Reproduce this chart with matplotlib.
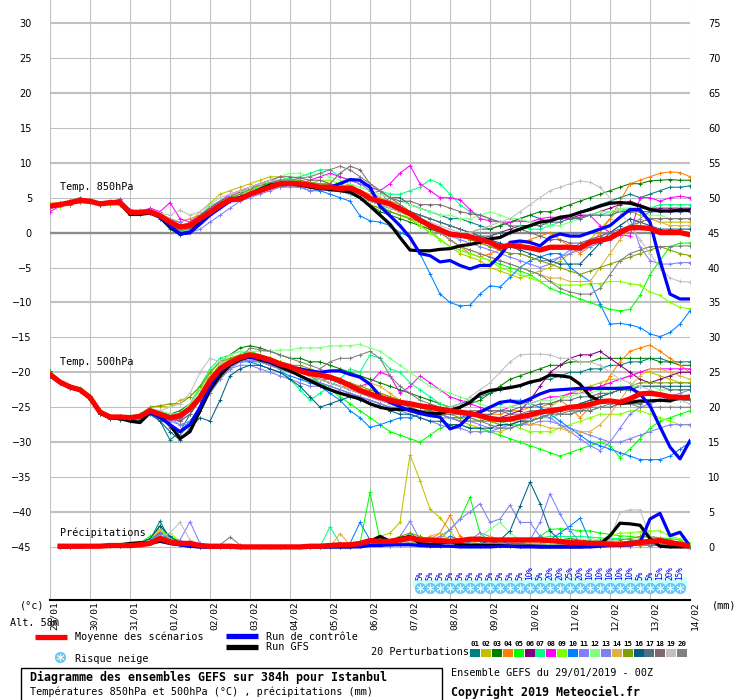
import matplotlib
matplotlib.use("Agg")
import matplotlib.pyplot as plt
from matplotlib.patches import Rectangle

# ------------------------------------------------------------
# axes / labels
# ------------------------------------------------------------
hours = list(range(0, 385, 6))          # 65 steps, 6-hourly, 384h
precip_hours = hours[1:]                 # precipitation starts at +6h
day_labels = ["29/01", "30/01", "31/01", "01/02", "02/02", "03/02", "04/02", "05/02",
              "06/02", "07/02", "08/02", "09/02", "10/02", "11/02", "12/02", "13/02", "14/02"]
temp_ticks = list(range(-45, 31, 5))
precip_ticks = list(range(0, 76, 5))

member_colors = ["#008080", "#c0c000", "#008000", "#ff8000", "#00ff00", "#800080", "#00ff80",
                 "#ff00ff", "#80ff00", "#0080ff", "#8080ff", "#80ff80", "#8080f0", "#e0b040",
                 "#80a000", "#006080", "#507080", "#806870", "#c0c0c0", "#808080"]

# snow risk (%) from 07/02 06Z to 13/02 18Z
snow_pct = [5, 5, 5, 5, 5, 5, 5, 5, 5, 5, 5, 10, 5, 20, 20, 25, 20, 10, 10, 10, 10, 10, 5, 5, 15, 20, 15]

# ------------------------------------------------------------
# 850 hPa temperature
# ------------------------------------------------------------
t850_mean = [3.8, 4.0, 4.3, 4.6, 4.5, 4.1, 4.3, 4.3, 2.9, 2.9, 3.0, 2.4, 1.5, 0.8, 1.0, 2.0, 2.9, 3.9, 4.7, 4.8,
             5.5, 6.0, 6.5, 7.0, 7.0, 7.0, 6.8, 6.5, 6.5, 6.3, 6.4, 5.8, 4.9, 4.5, 4.1, 3.4, 2.7, 1.8, 1.0, 0.4,
             -0.2, -0.4, -0.6, -1.0, -1.4, -2.1, -1.8, -2.0, -2.2, -2.5, -2.1, -2.1, -2.1, -2.2, -1.4, -1.1,
             -0.8, 0.0, 0.7, 0.7, 0.6, 0.0, 0.0, 0.0, -0.3]
t850_control = [3.8, 4.0, 4.3, 4.5, 4.5, 4.1, 4.3, 4.3, 2.8, 2.8, 3.0, 2.3, 1.0,
                -0.2, 0.0, 1.2, 2.5, 3.5, 4.5, 5.0, 5.5, 6.0, 6.5, 7.0, 7.0, 7.0, 6.8, 6.5, 6.5, 7.0, 7.6,
                7.5, 6.5, 3.8, 2.4, 1.0, -0.7, -3.0, -3.3, -4.2, -4.0, -4.7, -5.2, -4.7, -4.7, -3.3, -1.4,
                -1.2, -1.4, -1.9, -0.7, -0.2, -0.5, -0.5, 0.0, 0.5, 1.0, 2.2, 3.3, 3.3, 1.5, -4.0, -8.8, -9.5, -9.5]
t850_gfs = [3.8, 4.0, 4.2, 4.5, 4.4, 4.1, 4.2, 4.2, 2.6, 2.6, 2.8, 2.2, 0.8,
            -0.2, 0.0, 1.5, 2.8, 3.8, 4.6, 5.0, 5.5, 6.2, 6.8, 7.0, 7.0, 6.8, 6.5, 6.3, 6.2, 6.0, 5.8,
            5.0, 3.8, 2.5, 1.2, -0.7, -2.5, -2.6, -2.6, -2.4, -2.3, -1.9, -1.7, -1.4, -0.9, -0.7, 0.0,
            0.5, 1.0, 1.5, 1.7, 2.2, 2.4, 2.9, 3.3, 3.8, 4.2, 4.3, 4.2, 3.8, 3.3, 3.1, 3.1, 3.2, 3.2]

t850_p01 = [3.5, 4.2, 4.5, 5.0, 4.6, 4.0, 4.4, 4.8, 2.5, 2.7, 3.2, 2.0, 0.5,
            -0.3, 0.2, 1.5, 3.0, 4.0, 4.5, 5.0, 5.5, 6.5, 7.0, 7.5, 7.2, 7.0, 6.5, 6.0, 6.8, 7.0, 6.0,
            5.5, 4.5, 4.0, 5.0, 5.0, 4.0, 3.5, 3.0, 2.5, 2.0, 2.0, 1.5, 1.0, 0.5, 1.0, 1.5, 2.0, 2.5, 2.0, 1.5,
            2.0, 2.5, 3.0, 3.5, 4.0, 4.5, 5.0, 5.5, 5.0, 5.5, 6.0, 6.5, 6.5, 6.7]
t850_p02 = [4.0, 4.3, 4.0, 4.4, 4.2, 4.0, 4.1, 4.0, 3.0, 3.2, 3.3, 2.8, 2.0,
            1.0, 1.5, 3.0, 4.2, 5.5, 6.0, 6.5, 7.0, 7.5, 8.0, 8.0, 7.5, 7.5, 7.0, 7.5, 7.0, 6.5, 6.0,
            5.0, 4.0, 3.5, 3.0, 2.5, 2.0, 1.0, 0.5, -1.0, -2.0, -3.0, -3.5, -4.0, -5.0, -5.5, -6.0, -6.5, -6.0,
            -5.5, -5.0, -4.0, -3.0, -2.0, -1.0, 0.5, 2.0, 3.5, 3.0, 2.5, 2.0, 1.5, 1.5, 1.5, 1.5]
t850_p03 = [3.8, 4.0, 4.5, 4.6, 4.3, 4.2, 4.5, 4.2, 3.0, 2.8, 2.8, 2.2, 1.2,
            0.5, 0.8, 2.2, 3.5, 4.5, 5.0, 5.5, 6.2, 6.8, 7.0, 7.2, 7.0, 7.0, 6.8, 6.5, 7.0, 6.5, 6.0,
            5.0, 4.0, 3.0, 2.5, 2.0, 1.5, 1.0, 0.5, 0.0, -0.5, -0.5, 0.0, 0.5, 0.5, 1.0, 1.5, 2.0, 2.5, 3.0, 3.0,
            3.5, 4.0, 4.5, 5.0, 5.5, 6.0, 6.5, 7.0, 7.0, 7.4, 7.5, 7.6, 7.5, 7.5]
t850_p04 = [4.2, 4.3, 4.4, 4.6, 4.7, 4.3, 4.2, 4.0, 3.2, 3.0, 3.0, 2.6, 2.0,
            1.5, 2.0, 2.5, 3.5, 4.0, 4.5, 5.0, 5.5, 6.0, 6.5, 7.0, 6.8, 7.0, 7.0, 6.5, 7.0, 6.5, 7.0,
            6.0, 5.5, 6.0, 5.0, 4.0, 3.0, 2.0, 1.0, 0.0, -1.0, -2.0, -3.0, -3.5, -3.0, -2.5, -2.0, -1.5, -1.0,
            -0.5, 0.0, -1.0, -2.0, -3.0, -2.0, 0.0, 2.0, 4.5, 7.0, 7.5, 8.0, 8.5, 8.7, 8.6, 8.0]
t850_p05 = [3.5, 3.9, 4.2, 4.4, 4.5, 4.0, 4.0, 4.3, 2.8, 2.7, 2.8, 2.2, 1.0,
            0.2, 0.5, 1.8, 3.0, 4.0, 4.8, 5.5, 6.0, 6.5, 7.0, 7.2, 7.5, 7.2, 7.0, 7.0, 6.8, 6.5, 6.0,
            5.0, 4.5, 4.0, 3.0, 2.5, 2.0, 1.0, 0.0, -1.0, -2.0, -2.5, -3.0, -3.5, -4.0, -4.5, -5.0, -5.5, -6.0,
            -7.0, -8.0, -8.5, -9.0, -9.5, -10.0, -10.5, -11.0, -11.2, -11.0, -9.0, -6.0, -4.0, -2.0, -1.5, -1.5]
t850_p06 = [3.9, 4.1, 4.3, 4.5, 4.4, 4.2, 4.3, 4.1, 2.7, 2.8, 3.1, 2.5, 1.4,
            0.6, 1.0, 2.0, 3.0, 3.8, 4.5, 5.0, 5.5, 6.0, 6.5, 7.0, 7.0, 6.8, 6.5, 6.5, 6.0, 6.0, 6.5,
            6.0, 5.0, 4.5, 4.0, 3.0, 2.5, 1.5, 1.0, 0.5, 0.0, -0.5, -0.5, -1.0, -0.5, 0.0, 0.5, 1.0, 1.0,
            1.5, 1.5, 2.0, 2.0, 2.5, 2.5, 3.0, 3.5, 4.0, 4.5, 4.0, 3.5, 3.5, 3.5, 3.5, 3.5]
t850_p07 = [3.6, 4.0, 4.2, 4.5, 4.6, 4.2, 4.2, 4.4, 3.0, 3.1, 3.2, 2.3, 1.3,
            0.5, 1.2, 2.5, 3.8, 4.5, 5.0, 5.5, 6.0, 6.5, 7.0, 7.5, 7.8, 8.0, 8.5, 9.0, 9.0, 8.0, 7.5,
            7.0, 6.5, 6.0, 5.5, 5.5, 6.0, 6.5, 7.6, 7.0, 5.5, 4.0, 3.0, 2.5, 2.0, 1.5, 1.0, 1.0, 0.5,
            0.5, 1.0, 1.5, 2.0, 2.0, 2.5, 2.5, 3.0, 3.0, 3.5, 3.5, 3.5, 4.0, 4.0, 4.0, 4.0]
t850_p08 = [3.0, 3.8, 4.0, 4.4, 4.5, 4.0, 4.4, 4.6, 3.3, 3.0, 3.5, 3.0, 4.3,
            2.0, 1.5, 2.5, 3.5, 4.5, 5.5, 6.0, 6.5, 7.0, 7.5, 7.5, 7.0, 7.0, 7.5, 8.0, 8.5, 8.0, 7.5,
            7.0, 6.5, 6.0, 7.0, 8.5, 9.6, 7.0, 6.0, 5.0, 5.0, 4.7, 3.3, 2.0, 1.7, 1.5, 1.5, 1.7, 1.5,
            2.0, 2.2, 2.2, 2.0, 2.2, 2.5, 1.0, 0.0, -0.3, -0.5, 5.0, 5.0, 4.5, 5.0, 5.2, 5.0]
t850_p09 = [3.6, 3.7, 4.1, 4.3, 4.2, 4.0, 3.9, 4.0, 2.6, 2.7, 2.8, 2.2, 1.2,
            0.4, 0.8, 1.8, 3.0, 4.0, 4.6, 5.0, 5.5, 6.0, 6.5, 7.0, 7.0, 7.0, 7.0, 7.5, 7.5, 7.0, 6.5,
            6.0, 5.0, 4.0, 3.5, 3.0, 2.0, 1.0, 0.0, -1.0, -2.0, -2.5, -3.0, -3.5, -4.0, -5.0, -5.5, -6.0, -6.5,
            -7.0, -7.0, -7.5, -7.5, -7.5, -7.3, -7.3, -7.0, -7.0, -7.3, -7.5, -8.5, -9.0, -10.0, -10.7, -10.9]
t850_p10 = [3.7, 4.0, 4.2, 4.5, 4.4, 4.0, 4.2, 4.3, 2.8, 2.6, 2.8, 2.0, 1.0,
            0.0, 0.3, 1.5, 2.8, 3.8, 4.5, 5.0, 5.5, 6.0, 6.5, 6.5, 6.8, 6.5, 6.0, 6.0, 5.5, 5.0, 4.5,
            2.4, 1.7, 1.5, 1.0, 0.0, -0.6, -3.0, -5.9, -8.8, -10.0, -10.5, -10.4, -8.8, -7.6, -7.8, -6.4, -5.0,
            -4.0, -3.5, -3.0, -3.0, -5.0, -6.0, -7.0, -10.2, -13.1, -13.0, -13.2, -13.6, -14.5, -14.9, -14.3,
            -13.1, -11.2]
t850_p11 = [3.9, 4.1, 4.4, 4.5, 4.6, 4.3, 4.2, 4.2, 2.9, 3.0, 3.1, 2.6, 1.8,
            1.5, 0.0, 0.5, 1.5, 2.5, 3.5, 4.5, 5.0, 5.5, 6.0, 6.5, 6.5, 6.5, 6.0, 6.2, 6.0, 6.0, 5.5,
            5.0, 5.5, 6.0, 4.0, 3.0, 2.5, 2.0, 1.0, 0.0, -0.5, -1.0, -1.5, -2.0, -2.5, -3.0, -3.5, -4.0, -4.5,
            -5.0, -4.5, -3.5, -2.5, -1.5, -1.0, -0.5, 0.0, 1.0, 2.0, -2.0, -4.0, -4.5, -4.5, -4.3, -4.3]
t850_p12 = [4.1, 4.2, 4.3, 4.7, 4.6, 4.1, 4.5, 4.4, 3.1, 3.0, 3.2, 2.5, 1.6,
            1.0, 1.2, 2.2, 3.2, 4.2, 5.0, 5.5, 6.0, 6.8, 7.5, 8.0, 8.5, 8.5, 8.0, 8.5, 8.0, 7.5, 7.0,
            6.5, 6.0, 5.5, 5.0, 4.5, 4.0, 3.5, 3.0, 2.5, 2.5, 2.0, 2.0, 2.5, 3.0, 2.5, 2.0, 2.0, 1.5,
            1.5, 1.0, 1.0, 1.5, 2.0, 2.5, 3.0, 3.0, 3.5, 3.5, 3.0, 2.5, 2.5, 2.0, 2.0, 2.0]
t850_p13 = [3.7, 4.0, 4.2, 4.4, 4.3, 4.0, 4.2, 4.1, 2.8, 2.9, 3.0, 2.4, 1.5,
            0.8, 0.5, 1.5, 2.5, 3.5, 4.5, 5.0, 5.8, 6.2, 6.8, 7.0, 7.2, 7.0, 6.8, 6.5, 6.5, 7.0, 7.5,
            7.0, 6.0, 5.0, 4.5, 3.5, 3.0, 2.0, 1.0, 0.5, 0.0, -0.5, -1.0, -1.5, -2.0, -2.5, -3.0, -3.0, -3.5,
            -4.0, -4.0, -3.5, -3.0, -2.5, -2.0, -1.5, -1.0, 0.0, 1.0, 2.0, 3.0, 3.0, 3.0, 3.0, 3.0]
t850_p14 = [3.9, 4.1, 4.4, 4.6, 4.4, 4.1, 4.3, 4.3, 2.9, 2.8, 2.9, 2.3, 1.5,
            0.7, 1.0, 2.0, 3.0, 4.0, 4.8, 5.2, 5.8, 6.3, 6.8, 7.0, 7.0, 7.0, 6.8, 6.5, 6.5, 6.0, 6.5,
            6.0, 5.5, 5.0, 4.5, 4.0, 3.0, 2.0, 1.0, 0.0, -1.0, -2.0, -2.5, -3.0, -3.5, -4.0, -4.5, -5.0, -5.5,
            -6.0, -6.5, -6.5, -7.0, -7.0, -7.0, -5.0, -3.0, -1.0, 0.5, 1.5, 2.0, 1.5, 1.0, 1.0, 1.0]
t850_p15 = [3.8, 3.9, 4.2, 4.5, 4.5, 4.2, 4.2, 4.2, 2.8, 2.8, 3.0, 2.4, 1.4,
            0.6, 0.9, 2.0, 3.0, 4.0, 5.0, 5.5, 6.2, 6.8, 7.2, 7.5, 7.5, 7.5, 7.2, 7.0, 7.0, 6.5, 6.0,
            5.0, 4.0, 3.5, 3.0, 2.5, 2.0, 1.5, 1.0, 0.5, 0.0, -0.5, -1.0, -1.5, -2.0, -2.5, -3.0, -3.0, -3.5,
            -4.0, -4.5, -5.0, -5.5, -6.0, -5.5, -5.0, -4.5, -4.0, -3.5, -3.0, -2.5, -2.0, -2.5, -3.0, -3.3]
t850_p16 = [3.8, 4.0, 4.3, 4.8, 4.5, 4.0, 4.2, 4.3, 2.6, 2.8, 3.0, 2.4, 1.0,
            -0.2, 0.2, 1.5, 2.8, 4.0, 4.8, 5.2, 5.5, 6.0, 6.5, 7.0, 7.0, 6.8, 6.5, 6.5, 6.5, 6.0, 5.5,
            5.0, 4.5, 4.0, 3.5, 3.0, 3.0, 2.5, 2.0, 1.5, 1.0, 0.5, 0.0, -0.5, -1.0, -1.5, -2.0, -2.5, -3.0,
            -3.5, -4.0, -4.5, -4.5, -4.5, -3.0, -1.5, 0.0, 1.0, 2.0, 1.5, 1.0, 0.5, 0.5, 0.5, 0.5]
t850_p17 = [3.9, 4.1, 4.3, 4.6, 4.4, 4.1, 4.3, 4.2, 2.9, 2.9, 3.0, 2.5, 1.6,
            0.9, 1.0, 2.0, 3.0, 4.0, 4.7, 5.0, 5.5, 6.0, 6.5, 7.0, 7.0, 7.0, 6.8, 6.5, 6.5, 6.3, 6.2,
            5.8, 5.0, 4.5, 4.0, 3.5, 3.0, 2.5, 2.0, 1.5, 1.0, 0.5, 0.0, -0.5, -0.5, 0.0, 0.0, 0.5, 1.0,
            1.0, 1.5, 1.5, 2.0, 2.0, 2.5, 2.5, 2.5, 3.0, 3.0, 3.0, 3.0, 3.0, 3.0, 3.0, 3.0]
t850_p18 = [4.0, 4.2, 4.4, 4.5, 4.4, 4.2, 4.3, 4.4, 3.0, 2.9, 3.1, 2.6, 1.7,
            1.0, 1.3, 2.5, 3.5, 4.5, 5.2, 5.8, 6.5, 7.0, 7.5, 8.0, 8.0, 7.8, 7.5, 7.5, 7.0, 8.5, 9.5,
            9.0, 7.0, 6.0, 5.0, 4.5, 4.5, 4.0, 4.0, 4.0, 3.5, 3.0, 2.7, 2.5, 2.0, 1.5, 1.0, 0.5, 0.0,
            -0.5, -1.0, -1.0, -1.5, -1.5, -1.0, -0.5, 0.0, 0.5, 1.0, 1.5, 2.0, 2.0, 2.0, 2.0, 2.0]
t850_p19 = [4.0, 4.1, 4.3, 4.6, 4.5, 4.3, 4.4, 4.2, 3.0, 3.2, 3.3, 2.8, 2.5,
            3.2, 2.5, 3.0, 4.0, 5.0, 5.5, 6.0, 6.5, 7.0, 7.5, 7.5, 7.2, 7.0, 7.0, 6.8, 6.5, 6.0, 5.5,
            5.0, 4.5, 4.0, 3.5, 3.0, 2.5, 2.0, 1.5, 1.0, 0.5, 0.0, 0.0, 0.5, 1.0, 1.5, 2.0, 3.0, 4.0,
            5.0, 6.0, 6.5, 7.0, 7.4, 7.2, 6.5, 5.0, 3.0, 1.0, -1.0, -3.0, -5.0, -6.5, -7.0, -7.1]
t850_p20 = [3.7, 4.0, 4.2, 4.5, 4.4, 4.1, 4.2, 4.1, 2.7, 2.8, 2.9, 2.3, 1.2,
            0.3, 0.6, 1.8, 2.8, 3.8, 4.6, 5.2, 5.8, 6.3, 7.0, 7.5, 7.5, 7.8, 8.0, 8.5, 9.0, 9.5, 9.0,
            8.0, 7.0, 6.0, 5.0, 4.0, 3.0, 2.0, 1.0, 0.0, -1.0, -2.0, -2.5, -3.0, -3.5, -4.0, -4.5, -5.0, -5.5,
            -6.0, -7.0, -8.0, -8.5, -8.8, -8.8, -8.0, -6.0, -4.0, -3.0, -2.5, -2.0, -2.0, -2.0, -1.9, -1.9]

# ------------------------------------------------------------
# 500 hPa temperature
# ------------------------------------------------------------
t500_mean = [-20.3, -21.4, -22.1, -22.5, -23.6, -25.7, -26.4, -26.4, -26.5, -26.3, -25.5, -26.0, -26.5,
             -26.2, -25.2, -23.6, -21.2, -19.5, -18.6, -17.9, -17.5, -17.8, -18.2, -18.8, -19.2, -19.8,
             -20.2, -20.4, -20.7, -21.2, -21.9, -22.6, -23.1, -23.6, -24.0, -24.3, -24.5, -24.8, -25.0,
             -25.3, -25.5, -25.7, -25.9, -26.2, -26.6, -26.8, -26.7, -26.4, -26.1, -25.7, -25.5, -25.3,
             -25.0, -24.9, -24.6, -24.2, -24.1, -24.3, -23.8, -23.1, -23.0, -23.2, -23.5, -23.6, -23.6]
t500_control = [-20.5, -21.5, -22.2, -22.6, -23.7, -25.8, -26.5, -26.5, -26.6, -26.4, -25.8, -26.5, -27.5,
                -28.5, -27.5, -25.0, -22.0, -19.8, -18.8, -18.0, -17.8, -18.0, -18.5, -19.0, -19.2, -19.5,
                -19.8, -20.0, -19.8, -19.8, -20.3,
                -20.7, -21.7, -23.4, -24.3, -24.9, -25.5, -25.9, -26.2, -26.4, -28.1, -27.6, -26.2, -25.7,
                -25.0, -24.3, -24.1, -24.4, -23.8, -23.1, -22.6, -22.5, -22.4, -22.3, -22.3, -22.3, -22.3,
                -22.3, -22.2, -23.1, -24.8, -27.8, -30.7, -32.4, -29.8]
t500_gfs = [-20.3, -21.4, -22.1, -22.5, -23.6, -25.8, -26.5, -26.6, -27.0, -27.2, -25.8, -26.3, -27.5,
            -29.5, -28.5, -25.5, -22.5, -20.5, -19.0, -18.2, -17.8, -18.2, -18.6, -19.2, -19.8, -20.5,
            -21.2, -21.9, -22.5, -23.0, -23.4,
            -23.8, -24.5, -25.0, -25.3, -25.3, -25.3, -25.7, -25.9, -25.9, -25.5, -25.0, -24.3, -23.1,
            -22.6, -22.4, -22.2, -21.9, -21.4, -21.1, -20.4, -20.5, -20.7, -21.7, -23.4, -24.1, -24.1,
            -24.5, -24.3, -24.1, -24.1, -24.0, -24.1, -23.6, -23.4]

t500_p01 = [-20.0, -21.6, -22.3, -22.4, -23.8, -25.9, -26.6, -26.2, -26.8, -26.9, -25.2, -27.0, -29.7,
            -28.5, -26.0, -24.0, -22.0, -20.0, -19.0, -18.0, -18.5, -18.5, -19.0, -19.5, -20.0, -20.5,
            -21.0, -21.5, -22.0, -22.5, -23.0,
            -23.5, -24.0, -24.5, -25.0, -25.5, -25.5, -26.0, -26.0, -25.5, -25.0, -24.5, -24.0, -23.5,
            -23.0, -22.5, -22.0, -22.0, -21.5, -21.0, -21.0, -20.5, -20.0, -20.0, -19.5, -19.5, -19.0,
            -19.0, -18.5, -18.5, -18.0, -18.0, -18.5, -18.5, -18.5]
t500_p02 = [-20.5, -21.2, -22.0, -22.6, -23.4, -25.5, -26.2, -26.5, -26.3, -26.0, -25.0, -24.8, -25.0,
            -24.0, -23.5, -22.0, -20.5, -19.0, -18.2, -17.5, -17.0, -17.5, -18.0, -18.5, -19.0, -19.5,
            -20.0, -20.5, -21.0, -21.5, -22.0,
            -22.5, -22.5, -23.0, -23.5, -24.0, -24.5, -25.0, -25.5, -26.0, -26.5, -27.0, -27.5, -28.0,
            -28.5, -28.5, -28.0, -27.5, -27.0, -26.0, -25.0, -24.0, -23.0, -22.5, -22.0, -21.5, -21.0,
            -21.0, -20.5, -20.0, -20.0, -20.5, -21.0, -21.5, -21.5]
t500_p03 = [-19.8, -21.5, -22.2, -22.4, -23.5, -25.6, -26.3, -26.5, -26.4, -26.1, -25.3, -25.8, -26.0,
            -25.5, -24.5, -22.5, -20.0, -18.5, -17.5, -16.5, -16.2, -16.5, -17.0, -17.5, -18.0, -18.0,
            -18.5, -18.5, -19.0, -19.5, -20.0,
            -20.5, -21.0, -21.5, -22.0, -22.5, -23.0, -23.5, -24.0, -24.5, -25.0, -25.0, -24.5, -24.0,
            -23.0, -22.0, -21.0, -20.5, -20.0, -19.5, -19.0, -19.0, -18.5, -18.5, -18.5, -18.0, -18.0,
            -18.0, -18.0, -18.0, -18.0, -18.5, -18.5, -19.0, -19.0]
t500_p04 = [-20.4, -21.3, -22.0, -22.6, -23.7, -25.8, -26.5, -26.3, -26.6, -26.2, -25.6, -26.2, -26.8,
            -27.0, -26.0, -24.0, -21.5, -19.5, -18.5, -18.0, -18.0, -18.5, -19.0, -19.5, -20.0, -20.5,
            -21.0, -21.0, -21.5, -22.0, -22.0,
            -22.5, -23.0, -23.0, -23.5, -24.0, -24.5, -25.0, -25.5, -25.0, -25.0, -25.5, -26.0, -26.5,
            -26.0, -26.0, -25.5, -25.5, -25.0, -25.0, -24.5, -24.0, -25.0, -26.5, -25.0, -23.0, -20.5,
            -18.5, -17.0, -16.5, -16.1, -17.0, -18.0, -19.0, -20.0]
t500_p05 = [-20.2, -21.6, -22.3, -22.7, -23.9, -26.0, -26.7, -26.6, -26.8, -26.5, -25.8, -26.5, -27.5,
            -28.5, -27.0, -25.0, -22.5, -20.5, -19.0, -18.0, -17.0, -17.5, -18.0, -18.5, -19.0, -19.5,
            -20.5, -21.5, -22.5, -23.5, -24.5,
            -25.5, -26.5, -27.5, -28.5, -29.0, -29.5, -30.0, -29.0, -28.0, -27.5, -27.5, -28.0, -28.0,
            -28.5, -29.0, -29.5, -30.0, -30.5, -31.0, -31.5, -32.0, -31.5, -31.0, -30.5, -30.0, -30.5,
            -32.2, -31.0, -29.5, -28.0, -27.0, -26.5, -26.0, -25.5]
t500_p06 = [-20.3, -21.4, -22.2, -22.5, -23.5, -25.6, -26.4, -26.6, -26.6, -26.2, -25.4, -26.1, -26.6,
            -26.5, -25.5, -23.5, -21.0, -19.5, -18.5, -18.0, -17.5, -18.0, -18.5, -19.0, -19.5, -20.0,
            -20.5, -21.0, -21.5, -22.0, -22.5,
            -23.0, -23.5, -24.0, -24.5, -25.0, -25.5, -26.0, -26.0, -26.5, -26.5, -27.0, -27.0, -27.0,
            -26.5, -26.5, -26.0, -25.5, -24.0, -22.0, -20.0, -19.0, -18.0, -17.5, -17.5, -17.0, -18.0,
            -19.0, -20.0, -21.0, -21.5, -21.0, -20.5, -20.0, -20.0]
t500_p07 = [-20.1, -21.2, -22.0, -22.3, -23.4, -25.4, -26.2, -26.3, -26.3, -26.0, -25.2, -25.5, -26.0,
            -26.0, -24.5, -22.0, -19.5, -18.0, -17.5, -17.0, -17.5, -18.0, -18.5, -19.5, -21.0, -22.5,
            -24.0, -23.0, -22.0, -21.0, -19.5,
            -20.0, -17.5, -18.0, -19.5, -20.0, -21.5, -22.5, -23.5, -24.5, -25.0, -25.5, -26.0, -26.5,
            -27.0, -27.0, -27.5, -27.5, -27.0, -26.5, -26.5, -26.0, -26.0, -25.5, -25.5, -25.0, -25.0,
            -24.5, -24.5, -24.5, -24.0, -24.0, -24.0, -24.0, -24.0]
t500_p08 = [-20.4, -21.5, -22.2, -22.6, -23.7, -25.8, -26.5, -26.5, -26.7, -26.4, -25.6, -26.2, -26.8,
            -26.8, -25.5, -23.5, -21.0, -19.0, -18.0, -17.5, -17.8, -18.0, -18.5, -19.0, -19.5, -20.0,
            -20.5, -21.0, -21.0, -21.5, -22.0,
            -22.0, -21.5, -20.0, -20.5, -23.0, -22.0, -20.5, -21.5, -22.5, -23.5, -24.0, -24.5, -25.0,
            -25.5, -25.5, -25.0, -24.5, -24.5, -24.0, -23.5, -23.5, -23.0, -23.0, -22.5, -22.0, -21.5,
            -21.0, -20.5, -20.0, -19.5, -19.5, -19.5, -19.5, -19.5]
t500_p09 = [-20.0, -21.3, -22.1, -22.4, -23.6, -25.7, -26.3, -26.5, -26.6, -26.2, -25.5, -25.8, -26.3,
            -26.5, -25.0, -23.0, -20.5, -19.0, -18.0, -17.5, -17.2, -17.5, -18.0, -18.5, -19.0, -19.5,
            -20.0, -20.5, -21.0, -21.5, -22.0,
            -22.5, -23.0, -23.5, -24.0, -24.5, -25.0, -25.5, -26.0, -26.5, -26.5, -26.5, -27.0, -27.0,
            -27.0, -27.5, -27.5, -28.0, -28.5, -28.5, -28.5, -28.0, -27.5, -27.0, -26.5, -26.0, -26.0,
            -26.0, -25.5, -25.5, -26.0, -26.5, -27.0, -27.5, -27.5]
t500_p10 = [-20.6, -21.5, -22.2, -22.5, -23.6, -25.8, -26.5, -26.6, -26.8, -26.5, -25.8, -26.4, -27.5,
            -28.5, -27.0, -25.0, -22.0, -20.0, -19.0, -18.5, -18.5, -19.0, -19.5, -20.0, -20.5, -21.0,
            -21.5, -22.0, -23.0, -24.0, -25.5,
            -26.5, -27.9, -27.5, -27.0, -26.5, -26.5, -26.0, -26.0, -26.0, -26.5, -26.5, -26.0, -25.5,
            -25.0, -24.5, -24.0, -24.0, -24.5, -25.0, -26.0, -27.0, -28.0, -29.0, -30.0, -30.5, -31.0,
            -31.5, -32.0, -32.5, -32.5, -32.5, -32.0, -31.0, -30.0]
t500_p11 = [-20.3, -21.4, -22.0, -22.4, -23.5, -25.6, -26.3, -26.4, -26.5, -26.3, -25.5, -25.9, -26.6,
            -27.5, -27.5, -25.5, -23.0, -21.0, -19.5, -18.5, -18.2, -18.5, -19.0, -19.5, -20.0, -20.5,
            -21.0, -21.5, -22.0, -22.5, -23.0,
            -23.5, -24.0, -24.5, -25.0, -25.0, -25.5, -25.5, -26.0, -26.0, -26.5, -27.0, -27.0, -27.5,
            -28.0, -28.0, -27.5, -27.0, -26.5, -26.0, -26.5, -27.5, -28.5, -29.5, -30.5, -31.2, -30.0,
            -28.0, -26.0, -25.0, -24.5, -24.0, -23.5, -23.0, -22.5]
t500_p12 = [-20.2, -21.3, -22.0, -22.5, -23.5, -25.5, -26.2, -26.3, -26.4, -26.0, -25.2, -25.6, -26.0,
            -25.8, -24.5, -22.5, -20.0, -18.5, -17.5, -17.0, -17.0, -17.0, -17.0, -16.8, -16.8, -16.5,
            -16.5, -16.5, -16.2, -16.2, -16.2,
            -16.0, -16.5, -17.0, -18.0, -19.0, -20.0, -21.0, -22.0, -22.5, -23.0, -23.5, -24.0, -24.5,
            -25.0, -25.0, -25.0, -24.5, -24.5, -24.0, -24.0, -23.5, -23.5, -23.0, -23.0, -22.5, -22.5,
            -22.0, -22.0, -22.0, -22.0, -22.5, -22.5, -22.5, -22.5]
t500_p13 = [-20.4, -21.5, -22.2, -22.6, -23.8, -25.9, -26.6, -26.7, -26.8, -26.5, -25.7, -26.3, -27.0,
            -27.5, -27.0, -25.5, -23.0, -21.0, -19.5, -19.0, -19.0, -19.5, -20.0, -20.5, -21.0, -21.5,
            -22.0, -22.0, -22.5, -23.0, -23.0,
            -23.5, -24.0, -24.5, -25.0, -25.5, -26.0, -26.5, -27.0, -27.5, -28.0, -28.0, -28.5, -28.5,
            -28.5, -28.0, -28.0, -27.5, -27.5, -27.0, -27.0, -27.5, -28.0, -28.5, -29.0, -29.5, -30.0,
            -30.0, -29.5, -29.0, -28.5, -28.0, -27.5, -27.5, -27.5]
t500_p14 = [-20.3, -21.4, -22.1, -22.5, -23.6, -25.7, -26.4, -26.4, -26.5, -26.3, -25.5, -26.0, -26.4,
            -26.0, -25.0, -23.5, -21.5, -19.5, -18.5, -18.0, -17.5, -18.0, -18.5, -19.0, -19.5, -20.0,
            -20.5, -21.0, -21.5, -22.0, -22.5,
            -22.5, -21.5, -22.0, -23.0, -24.0, -24.5, -25.0, -25.0, -25.5, -25.5, -26.0, -26.0, -26.5,
            -26.5, -26.5, -27.0, -27.0, -27.5, -27.5, -28.0, -28.0, -28.5, -28.5, -28.5, -27.5, -26.0,
            -24.0, -22.0, -20.5, -19.5, -19.5, -20.0, -20.5, -21.0]
t500_p15 = [-20.2, -21.3, -22.0, -22.4, -23.5, -25.6, -26.3, -26.4, -26.4, -26.2, -25.0, -24.8, -24.5,
            -24.5, -23.5, -22.0, -20.0, -18.5, -18.0, -17.5, -17.5, -18.0, -18.0, -18.5, -19.0, -19.0,
            -19.5, -20.0, -20.5, -21.0, -21.5,
            -22.0, -22.5, -23.0, -23.5, -24.0, -24.5, -25.0, -25.5, -26.0, -26.0, -26.5, -26.5, -27.0,
            -27.0, -27.5, -27.5, -27.0, -27.0, -26.5, -26.0, -25.5, -25.0, -24.5, -24.0, -23.5, -23.0,
            -22.5, -22.0, -21.5, -21.5, -21.5, -21.5, -21.5, -21.5]
t500_p16 = [-20.5, -21.6, -22.3, -22.7, -23.8, -26.0, -26.7, -26.8, -27.0, -26.8, -26.0, -27.0, -28.5,
            -29.7, -28.0, -26.5, -27.0, -24.0, -20.5, -19.5, -19.0, -19.0, -19.5, -20.0, -21.0, -22.0,
            -23.5, -25.0, -24.5, -24.0, -23.5,
            -24.0, -24.5, -25.0, -25.5, -26.0, -26.0, -26.5, -27.0, -27.0, -27.5, -27.5, -28.0, -28.0,
            -28.0, -27.5, -27.5, -27.0, -27.0, -26.5, -26.0, -25.5, -25.0, -24.5, -24.0, -23.5, -23.0,
            -22.5, -22.5, -22.0, -22.0, -22.0, -22.0, -22.0, -22.0]
t500_p17 = [-20.3, -21.4, -22.1, -22.5, -23.6, -25.7, -26.4, -26.4, -26.5, -26.3, -25.5, -26.0, -26.5,
            -27.0, -26.0, -24.0, -21.5, -19.5, -18.5, -18.0, -17.8, -18.0, -18.5, -19.0, -19.5, -20.0,
            -20.5, -21.0, -21.5, -22.0, -22.5,
            -23.0, -23.5, -24.0, -24.0, -24.5, -24.5, -25.0, -25.0, -25.5, -25.5, -26.0, -26.0, -26.0,
            -26.0, -25.5, -25.5, -25.0, -25.0, -24.5, -24.5, -24.0, -24.0, -23.5, -23.5, -23.0, -23.0,
            -22.5, -22.5, -22.0, -22.0, -22.0, -22.5, -22.5, -22.5]
t500_p18 = [-20.4, -21.5, -22.2, -22.6, -23.7, -25.8, -26.5, -26.5, -26.6, -26.4, -25.6, -26.1, -26.6,
            -26.5, -25.5, -23.5, -21.0, -19.5, -18.5, -18.0, -17.5, -17.8, -18.2, -18.6, -19.0, -19.5,
            -20.0, -20.5, -21.0, -21.5, -22.0,
            -22.5, -23.0, -23.5, -24.0, -24.5, -25.0, -25.5, -25.5, -26.0, -26.0, -26.0, -25.5, -25.5,
            -25.5, -25.5, -26.0, -26.0, -25.5, -25.5, -25.5, -26.0, -26.0, -25.5, -25.5, -25.0, -25.0,
            -24.5, -24.5, -24.5, -24.0, -24.0, -24.0, -24.0, -24.0]
t500_p19 = [-20.3, -21.4, -22.1, -22.5, -23.6, -25.7, -26.4, -26.4, -26.5, -26.3, -25.5, -25.5, -25.0,
            -24.5, -23.0, -20.0, -18.0, -18.5, -18.5, -18.0, -17.5, -18.0, -18.5, -19.0, -19.5, -20.0,
            -20.5, -21.0, -21.5, -22.0, -22.5,
            -23.0, -23.5, -24.0, -24.5, -25.0, -25.5, -26.0, -26.0, -25.5, -25.0, -24.5, -23.5, -22.5,
            -21.5, -20.0, -18.5, -17.5, -17.4, -17.4, -17.5, -18.0, -18.0, -18.5, -18.5, -19.0, -20.0,
            -21.0, -21.5, -22.0, -22.5, -23.0, -23.5, -24.0, -24.5]
t500_p20 = [-20.2, -21.3, -22.0, -22.4, -23.5, -25.6, -26.3, -26.3, -26.4, -26.2, -25.2, -26.0, -28.0,
            -29.0, -27.5, -25.0, -22.5, -20.5, -19.0, -18.0, -16.5, -16.8, -17.0, -17.5, -18.0, -18.5,
            -19.0, -19.5, -18.5, -18.0, -18.0,
            -17.5, -17.0, -18.0, -20.5, -22.0, -23.0, -24.0, -24.5, -25.0, -25.5, -26.0, -26.5, -27.0,
            -27.5, -28.0, -28.0, -27.5, -27.0, -26.5, -26.0, -26.0, -25.5, -25.5, -25.0, -25.0, -24.5,
            -24.5, -24.5, -25.0, -25.0, -25.0, -25.0, -25.0, -25.0]

# ------------------------------------------------------------
# precipitation (mm per 6h), from +6h
# ------------------------------------------------------------
rr_mean = [0.1, 0.1, 0.1, 0.1, 0.1, 0.2, 0.2, 0.2, 0.3, 0.5, 1.2, 0.7, 0.5, 0.5, 0.2, 0.1,
           0.1, 0.1, 0.0, 0.0, 0.0, 0.0, 0.0, 0.0, 0.0, 0.1, 0.1, 0.2, 0.3, 0.3, 0.5, 0.9,
           0.8, 0.8, 1.0, 1.3, 1.0, 1.0, 0.9, 0.8, 0.9, 1.1, 1.1, 1.0, 1.0, 1.0, 1.0, 1.0,
           1.0, 0.9, 0.8, 0.6, 0.6, 0.5, 0.5, 0.4, 0.4, 0.5, 0.6, 0.8, 0.9, 0.6, 0.4, 0.1]
rr_control = [0, 0, 0, 0.1, 0.1, 0.1, 0.1, 0.2, 0.3, 0.5, 1.0, 0.5, 0.3, 0.1, 0, 0,
              0, 0, 0, 0, 0, 0, 0, 0, 0, 0, 0, 0, 0, 0, 0, 0.2,
              0.2, 0.3, 0.3, 0.3, 0.2, 0.1, 0.1, 0.1, 0, 0, 0, 0, 0.1, 0.1, 0, 0,
              0, 0, 0, 0, 0, 0, 0.1, 0.2, 0.2, 0.3, 0.6, 4.0, 4.8, 1.6, 2.1, 0.1]
rr_gfs = [0, 0, 0.1, 0.1, 0.1, 0.2, 0.3, 0.5, 0.6, 0.5, 0.8, 0.5, 0.3, 0.1, 0, 0,
          0, 0, 0, 0, 0, 0, 0, 0, 0, 0, 0, 0, 0, 0, 0.2, 0.8,
          1.5, 0.8, 1.2, 1.5, 0.5, 0.3, 0.5, 0.8, 0.3, 0.2, 0.2, 0.2, 0.2, 0.1, 0.1, 0.1,
          0, 0, 0, 0, 0, 0.1, 0.4, 1.6, 3.4, 3.3, 3.1, 1.2, 0.1, 0, 0, 0]

rr_p01 = [0, 0.1, 0.2, 0.2, 0.1, 0.2, 0.3, 0.3, 0.5, 1.0, 3.7, 1.0, 0.5, 0.3, 0.2, 0,
          0, 0, 0, 0, 0, 0, 0, 0, 0, 0, 0, 0, 0, 0, 0.2, 0.5,
          0.3, 0.5, 0.8, 1.0, 0.5, 0.3, 0.5, 0.3, 0.2, 0.3, 0.5, 0.3, 0.2, 0.2, 0.3, 0.5,
          0.5, 0.3, 0.2, 0.2, 0.3, 0.2, 0.2, 0.1, 0.1, 0.2, 0.3, 0.5, 0.8, 0.5, 0.3, 0]
rr_p02 = [0, 0, 0.1, 0.2, 0.2, 0.2, 0.2, 0.3, 0.3, 0.5, 1.5, 1.0, 0.5, 0.2, 0, 0,
          0, 0, 0, 0, 0, 0, 0, 0, 0, 0, 0, 0, 0, 0, 0.5, 1.0,
          1.5, 2.0, 3.5, 13.2, 9.5, 5.4, 4.2, 2.3, 0.3, 0.2, 0.2, 0.3, 0.5, 0.3, 0.2, 0.2,
          0.2, 0.2, 0.3, 0.2, 0.2, 0.1, 0.1, 0.1, 0.2, 0.3, 0.2, 0.2, 0.3, 0.2, 0.1, 0]
rr_p03 = [0, 0.1, 0.1, 0.2, 0.2, 0.2, 0.3, 0.4, 0.5, 1.2, 3.0, 1.5, 0.5, 0.2, 0.1, 0,
          0, 0, 0, 0, 0, 0, 0, 0, 0, 0, 0, 0, 0, 0.2, 0.5, 1.0,
          0.8, 0.5, 0.3, 0.5, 0.8, 0.5, 0.3, 0.5, 0.3, 0.2, 0.3, 0.5, 0.3, 0.2, 0.2, 0.3,
          0.5, 0.8, 1.0, 1.2, 1.0, 0.8, 0.5, 0.3, 0.2, 0.2, 0.3, 0.3, 0.5, 0.5, 0.3, 0]
rr_p04 = [0, 0, 0.1, 0.1, 0.2, 0.2, 0.2, 0.3, 0.5, 1.0, 2.2, 1.2, 0.5, 0.2, 0, 0,
          0, 0, 0, 0, 0, 0, 0, 0, 0, 0, 0, 0, 0, 0, 0.3, 0.8,
          0.5, 0.8, 1.0, 0.5, 0.3, 1.0, 2.0, 4.5, 1.5, 0.5, 0.3, 0.2, 0.3, 0.5, 1.0, 0.5,
          0.3, 0.2, 0.2, 0.3, 0.5, 0.3, 0.2, 0.2, 0.2, 0.3, 0.3, 0.2, 0.2, 0.2, 0.1, 0]
rr_p05 = [0, 0.1, 0.1, 0.2, 0.2, 0.3, 0.3, 0.4, 0.6, 1.5, 2.5, 1.5, 0.8, 0.3, 0.1, 0,
          0, 0, 0, 0, 0, 0, 0, 0, 0, 0, 0, 0, 0, 0, 0.5, 7.8,
          1.0, 0.5, 0.3, 0.5, 0.8, 0.5, 1.0, 2.5, 4.0, 7.1, 2.0, 0.8, 0.5, 0.3, 0.5, 0.8,
          1.5, 2.5, 2.6, 2.5, 2.3, 2.3, 2.0, 1.8, 1.6, 1.5, 1.3, 1.5, 1.3, 1.2, 1.0, 0]
rr_p06 = [0, 0, 0.1, 0.1, 0.2, 0.2, 0.2, 0.2, 0.3, 0.5, 1.2, 0.8, 0.3, 0.2, 0, 0,
          0, 0, 0, 0, 0, 0, 0, 0, 0, 0, 0, 0, 0, 0, 0.2, 0.3,
          0.3, 0.2, 0.3, 0.5, 0.3, 0.2, 0.2, 0.3, 0.2, 0.2, 0.1, 0.2, 0.3, 0.2, 0.2, 0.3,
          0.2, 0.2, 0.1, 0.1, 0.2, 0.2, 0.2, 0.3, 0.3, 0.5, 0.5, 0.8, 0.5, 0.3, 0.2, 0]
rr_p07 = [0, 0.1, 0.2, 0.2, 0.2, 0.3, 0.3, 0.5, 0.4, 0.8, 2.0, 1.0, 0.5, 0.2, 0, 0,
          0, 0, 0, 0, 0, 0, 0, 0, 0, 0, 0, 2.9, 0.5, 0, 0.3, 0.5,
          0.3, 0.2, 0.5, 1.0, 0.8, 0.5, 0.3, 0.3, 0.2, 0.2, 0.3, 0.5, 0.5, 0.8, 1.0, 1.2,
          1.3, 1.5, 1.5, 1.5, 1.5, 1.4, 1.3, 1.2, 1.2, 1.0, 1.0, 0.8, 0.8, 0.5, 0.5, 0]
rr_p08 = [0, 0, 0.1, 0.1, 0.1, 0.2, 0.2, 0.3, 0.3, 0.6, 1.5, 0.8, 0.4, 0.2, 0, 0,
          0, 0, 0, 0, 0, 0, 0, 0, 0, 0, 0, 0, 0, 0.3, 0.5, 0.5,
          0.8, 0.5, 1.0, 1.5, 1.2, 0.8, 0.5, 0.3, 0.2, 0.3, 0.5, 0.3, 0.2, 0.2, 0.3, 0.2,
          0.2, 0.1, 0.1, 0.2, 0.2, 0.3, 0.3, 0.2, 0.2, 0.2, 0.3, 0.3, 0.2, 0.2, 0.1, 0]
rr_p09 = [0, 0.1, 0.1, 0.2, 0.2, 0.3, 0.4, 0.5, 0.5, 0.8, 1.5, 2.0, 0.8, 0.3, 0.1, 0,
          0, 0, 0, 0, 0, 0, 0, 0, 0, 0, 0, 0, 0, 0, 0.3, 0.5,
          0.5, 0.3, 0.5, 0.8, 0.5, 0.3, 0.5, 0.5, 0.3, 0.2, 0.3, 0.5, 0.5, 0.3, 0.3, 0.5,
          0.5, 0.8, 1.0, 1.0, 0.8, 0.8, 1.0, 1.5, 2.0, 2.0, 2.2, 2.3, 2.3, 1.5, 1.2, 0.5]
rr_p10 = [0, 0.1, 0.1, 0.2, 0.2, 0.2, 0.3, 0.3, 0.5, 1.0, 2.0, 1.0, 0.5, 0.2, 0.1, 0,
          0, 0, 0, 0, 0, 0, 0, 0, 0, 0, 0, 0, 0, 0.5, 3.5, 1.0,
          0.5, 0.3, 0.5, 2.0, 1.0, 0.5, 0.8, 1.5, 1.0, 0.5, 0.3, 0.5, 0.8, 0.5, 0.3, 0.5,
          0.5, 1.0, 2.0, 3.0, 4.1, 0.8, 0.3, 0.2, 0.3, 0.3, 0.3, 0.5, 0.5, 0.3, 0.2, 0]
rr_p11 = [0, 0.1, 0.1, 0.2, 0.2, 0.2, 0.3, 0.3, 0.5, 0.8, 1.5, 1.0, 1.0, 3.6, 0.5, 0,
          0, 0, 0, 0, 0, 0, 0, 0, 0, 0, 0, 0, 0, 0, 0.2, 0.5,
          0.5, 0.8, 1.5, 3.7, 1.0, 0.5, 0.3, 0.5, 0.5, 1.0, 2.0, 1.5, 1.0, 0.8, 0.5, 1.0,
          3.5, 7.6, 4.7, 2.3, 0.8, 0.5, 0.3, 0.2, 0.2, 0.3, 0.3, 0.2, 0.2, 0.2, 0.1, 0]
rr_p12 = [0, 0.1, 0.1, 0.1, 0.2, 0.2, 0.2, 0.3, 0.3, 0.6, 1.2, 0.8, 0.4, 0.2, 0, 0,
          0, 0, 0, 0, 0, 0, 0, 0, 0, 0, 0, 0, 0, 0, 0.3, 0.5,
          0.5, 0.3, 0.3, 0.5, 0.5, 1.0, 1.5, 1.0, 0.8, 1.0, 1.5, 2.5, 3.5, 2.0, 1.0, 0.5,
          0.5, 0.3, 0.5, 0.8, 1.0, 1.2, 1.0, 0.8, 0.5, 0.5, 0.3, 0.3, 0.3, 0.2, 0.2, 0]
rr_p13 = [0, 0.1, 0.1, 0.2, 0.2, 0.2, 0.2, 0.3, 0.4, 0.8, 1.8, 0.8, 0.4, 0.2, 0, 0,
          0, 0, 0, 0, 0, 0, 0, 0, 0, 0, 0, 0, 0, 0, 0.2, 0.3,
          0.3, 0.2, 0.3, 0.5, 0.5, 0.8, 1.5, 2.5, 4.0, 5.0, 6.2, 3.5, 4.0, 6.0, 3.5, 3.5,
          1.5, 0.8, 0.5, 0.3, 0.3, 0.2, 0.2, 0.2, 0.2, 0.2, 0.3, 0.2, 0.2, 0.2, 0.1, 0]
rr_p14 = [0, 0.1, 0.1, 0.2, 0.2, 0.2, 0.3, 0.3, 0.5, 1.0, 2.5, 1.2, 0.5, 0.2, 0, 0,
          0, 0, 0, 0, 0, 0, 0, 0, 0, 0, 0, 0, 1.9, 0.3, 0.3, 0.5,
          0.5, 0.5, 0.8, 1.0, 0.8, 1.5, 2.0, 1.0, 0.5, 0.5, 0.8, 1.5, 1.0, 0.8, 0.5, 0.5,
          0.5, 0.8, 1.0, 0.5, 0.3, 0.3, 0.2, 0.2, 0.3, 0.3, 0.3, 0.5, 0.5, 0.3, 0.2, 0]
rr_p15 = [0, 0.1, 0.1, 0.2, 0.2, 0.2, 0.2, 0.3, 0.4, 0.8, 1.6, 1.0, 0.4, 0.2, 0, 0,
          0, 0, 0, 0, 0, 0, 0, 0, 0, 0, 0, 0, 0, 0, 0.3, 0.5,
          0.8, 1.0, 1.5, 2.0, 1.5, 1.0, 0.5, 0.5, 0.3, 0.3, 0.5, 0.5, 0.3, 0.2, 0.3, 0.3,
          0.2, 0.2, 0.3, 0.3, 0.5, 0.5, 0.8, 1.0, 1.0, 1.2, 1.5, 1.5, 1.2, 1.0, 0.5, 0]
rr_p16 = [0, 0.1, 0.1, 0.2, 0.2, 0.3, 0.3, 0.4, 0.6, 1.2, 3.0, 1.5, 0.6, 0.3, 0.1, 0,
          0, 0, 0, 0, 0, 0, 0, 0, 0, 0, 0, 0, 0, 0, 0.3, 0.5,
          0.5, 0.3, 0.5, 0.8, 0.5, 0.3, 0.5, 1.0, 0.5, 0.3, 0.5, 0.8, 1.0, 2.3, 5.8, 9.3,
          6.2, 2.3, 0.9, 0.5, 0.3, 0.2, 0.2, 0.2, 0.3, 0.3, 0.5, 0.5, 0.3, 0.2, 0.2, 0]
rr_p17 = [0, 0.1, 0.1, 0.2, 0.2, 0.2, 0.2, 0.3, 0.4, 0.8, 1.5, 0.8, 0.5, 0.2, 0, 0,
          0, 0, 0, 0, 0, 0, 0, 0, 0, 0, 0, 0, 0, 0, 0.2, 0.3,
          0.3, 0.5, 0.8, 0.5, 0.3, 0.5, 0.5, 0.3, 0.3, 0.5, 0.5, 0.3, 0.3, 0.5, 0.5, 0.3,
          0.3, 0.2, 0.2, 0.3, 0.5, 0.8, 0.8, 0.5, 0.5, 0.8, 1.0, 1.0, 0.8, 0.5, 0.3, 0]
rr_p18 = [0, 0.1, 0.1, 0.1, 0.2, 0.2, 0.2, 0.3, 0.3, 0.5, 1.2, 0.8, 0.4, 0.2, 0, 0,
          0, 0, 0, 0, 0, 0, 0, 0, 0, 0, 0, 0, 0, 0, 0.2, 0.5,
          0.5, 0.3, 0.5, 1.0, 0.8, 0.5, 0.3, 0.3, 0.2, 0.3, 0.3, 0.2, 0.2, 0.3, 0.3, 0.2,
          0.2, 0.2, 0.2, 0.3, 0.3, 0.3, 0.2, 0.2, 0.2, 0.2, 0.3, 0.3, 0.3, 0.2, 0.2, 0]
rr_p19 = [0, 0.1, 0.1, 0.2, 0.2, 0.2, 0.3, 0.3, 0.5, 0.8, 1.5, 2.0, 3.5, 1.0, 0.3, 0,
          0, 0, 0, 0, 0, 0, 0, 0, 0, 0, 0, 0, 0, 0, 0.2, 0.3,
          0.3, 0.3, 0.5, 0.8, 0.5, 0.3, 0.3, 0.3, 0.2, 0.3, 0.3, 0.3, 0.2, 0.3, 0.3, 0.2,
          0.2, 0.2, 0.3, 0.3, 0.3, 0.5, 0.3, 1.0, 5.0, 5.3, 5.3, 1.5, 0.5, 0.3, 0.2, 0]
rr_p20 = [0, 0.1, 0.1, 0.2, 0.2, 0.2, 0.2, 0.3, 0.5, 0.8, 1.5, 1.0, 0.5, 0.3, 0.2, 0.2,
          0.3, 1.4, 0.3, 0, 0, 0, 0, 0, 0, 0, 0, 0, 0, 0, 0.2, 0.3,
          0.3, 0.5, 0.5, 0.3, 0.3, 0.5, 1.0, 0.8, 0.5, 0.3, 0.3, 0.5, 0.5, 0.3, 0.3, 0.3,
          0.2, 0.2, 0.3, 0.3, 0.3, 0.2, 0.2, 0.2, 0.2, 0.3, 0.3, 0.3, 0.3, 0.2, 0.2, 0]

t850_members = [t850_p01, t850_p02, t850_p03, t850_p04, t850_p05, t850_p06, t850_p07, t850_p08, t850_p09, t850_p10,
                t850_p11, t850_p12, t850_p13, t850_p14, t850_p15, t850_p16, t850_p17, t850_p18, t850_p19, t850_p20]
t500_members = [t500_p01, t500_p02, t500_p03, t500_p04, t500_p05, t500_p06, t500_p07, t500_p08, t500_p09, t500_p10,
                t500_p11, t500_p12, t500_p13, t500_p14, t500_p15, t500_p16, t500_p17, t500_p18, t500_p19, t500_p20]
rr_members = [rr_p01, rr_p02, rr_p03, rr_p04, rr_p05, rr_p06, rr_p07, rr_p08, rr_p09, rr_p10,
              rr_p11, rr_p12, rr_p13, rr_p14, rr_p15, rr_p16, rr_p17, rr_p18, rr_p19, rr_p20]

MONO = "DejaVu Sans Mono"
PRECIP_OFFSET = 45     # 0 mm sits on the -45 degC line
YMIN, YMAX = -52.6, 33.3
SNOW_Y = -50.87

# ------------------------------------------------------------
# figure
# ------------------------------------------------------------
fig = plt.figure(figsize=(7.4, 7.0), dpi=100)
ax = fig.add_axes([50 / 740, 100 / 700, 640 / 740, 600 / 700])
ax.set_xlim(0, 384)
ax.set_ylim(YMIN, YMAX)

# grid
for h in hours[::4]:
    ax.axvline(h, color="#c0c0c0", lw=0.75, zorder=0)
for v in temp_ticks:
    if v == 0:
        ax.axhline(v, color="#8c8c8c", lw=1.7, zorder=0)
    elif v % 10 == 0:
        ax.axhline(v, color="#c0c0c0", lw=1.5, zorder=0)
    else:
        ax.axhline(v, color="#c0c0c0", lw=0.75, zorder=0)

for sp in ["top", "left", "right"]:
    ax.spines[sp].set_visible(False)
ax.spines["bottom"].set_color("black")
ax.spines["bottom"].set_linewidth(1.5)

ax.set_yticks(temp_ticks)
ax.tick_params(axis="y", length=0, pad=13, labelsize=7)
ax.set_xticks(hours[::4])
ax.set_xticklabels(day_labels, rotation=90, ha="left", va="top", family=MONO, fontsize=6.8)
ax.tick_params(axis="x", length=0, pad=1)

# members
for vals, col in zip(t850_members, member_colors):
    ax.plot(hours, vals, color=col, lw=0.75, marker="+", ms=3.5, mew=0.7, zorder=2)
for vals, col in zip(t500_members, member_colors):
    ax.plot(hours, vals, color=col, lw=0.75, marker="+", ms=3.5, mew=0.7, zorder=2)

ax.plot(hours, t850_gfs, color="black", lw=2.3, zorder=3)
ax.plot(hours, t500_gfs, color="black", lw=2.3, zorder=3)
ax.plot(hours, t850_control, color="#0000ff", lw=2.3, zorder=3)
ax.plot(hours, t500_control, color="#0000ff", lw=2.3, zorder=3)
ax.plot(hours, t850_mean, color="#ff0000", lw=3.8, zorder=4)
ax.plot(hours, t500_mean, color="#ff0000", lw=3.8, zorder=4)

ax.text(6, 6.5, "Temp. 850hPa", family=MONO, fontsize=7.3, va="center", ha="left", zorder=6)
ax.text(6, -18.5, "Temp. 500hPa", family=MONO, fontsize=7.3, va="center", ha="left", zorder=6)
ax.text(6, -43.0, "Précipitations", family=MONO, fontsize=7.3, va="center", ha="left", zorder=6)

# snow risk band
snow_hours = hours[64 - len(snow_pct):64]
first_big = next(h for h, p in zip(snow_hours, snow_pct) if p >= 10)
ax.fill_between([snow_hours[0] - 4, snow_hours[-1] + 4], SNOW_Y, -49.75, color="#c8ffff", lw=0, zorder=1)
ax.fill_between([first_big - 4, snow_hours[-1] + 4], SNOW_Y, -49.3, color="#c8ffff", lw=0, zorder=1)
ax.plot(snow_hours, [SNOW_Y] * len(snow_hours), "o", ms=7.6, mfc="#6cc8f4", mec="#5cb8ec", mew=0.4, zorder=5)
ax.plot(snow_hours, [SNOW_Y] * len(snow_hours), marker=(6, 2, 0), ls="none", ms=5.5, mec="#e8f8ff",
        mew=0.6, zorder=5)
for h, p in zip(snow_hours, snow_pct):
    ax.text(h, -49.8, f"{p}%", rotation=90, ha="center", va="bottom", family=MONO, fontsize=5.5,
            color="#0000ff", zorder=6)

# precipitation on the right-hand scale
ax2 = ax.twinx()
ax2.set_ylim(YMIN + PRECIP_OFFSET, YMAX + PRECIP_OFFSET)
ax2.set_yticks(precip_ticks)
ax2.tick_params(axis="y", length=0, pad=13, labelsize=7)
for sp in ax2.spines.values():
    sp.set_visible(False)
for vals, col in zip(rr_members, member_colors):
    ax2.plot(precip_hours, vals, color=col, lw=0.75, marker="+", ms=3.5, mew=0.7, zorder=2)
ax2.plot(precip_hours, rr_gfs, color="black", lw=2.3, zorder=3)
ax2.plot(precip_hours, rr_control, color="#0000ff", lw=2.3, zorder=3)
ax2.plot(precip_hours, rr_mean, color="#ff0000", lw=3.8, zorder=4)

# ------------------------------------------------------------
# legend and captions (pixel coordinates)
# ------------------------------------------------------------
lax = fig.add_axes([0, 0, 1, 1])
lax.set_xlim(0, 740)
lax.set_ylim(700, 0)
lax.axis("off")
lax.patch.set_alpha(0)

txt = dict(family=MONO, fontsize=7.3, va="center", ha="left")
lax.text(20, 605, "(°c)", **txt)
lax.text(712, 605, "(mm)", **txt)
lax.text(10, 623, "Alt. 58m", **txt)

lax.plot([35, 67], [637, 637], color="#ff0000", lw=3.8, solid_capstyle="butt")
lax.text(75, 637, "Moyenne des scénarios", **txt)
lax.plot([226, 258], [636, 636], color="#0000ff", lw=3.8, solid_capstyle="butt")
lax.text(266, 637, "Run de contrôle", **txt)
lax.plot([226, 258], [647, 647], color="black", lw=3.8, solid_capstyle="butt")
lax.text(266, 647, "Run GFS", **txt)

lax.plot([60], [657], "o", ms=7.6, mfc="#6cc8f4", mec="#5cb8ec", mew=0.4)
lax.plot([60], [657], marker=(6, 2, 0), ms=5.5, mec="#e8f8ff", mew=0.6)
lax.text(75, 659, "Risque neige", **txt)

lax.text(371, 652, "20 Perturbations", **txt)
for k, col in enumerate(member_colors):
    x0 = 470 + 10.9 * k
    lax.add_patch(Rectangle((x0, 649), 10, 8, color=col, lw=0))
    lax.text(x0 + 5, 644, f"{k + 1:02d}", family=MONO, fontsize=5.3, ha="center", va="center",
             fontweight="bold")

lax.add_patch(Rectangle((20.5, 667.5), 421, 40, fill=False, ec="black", lw=1))
lax.text(30, 677, "Diagramme des ensembles GEFS sur 384h pour Istanbul", family=MONO, fontsize=8.4,
         fontweight="bold", va="center", ha="left")
lax.text(30, 692, "Températures 850hPa et 500hPa (°C) , précipitations (mm)", **txt)
lax.text(451, 673, "Ensemble GEFS du 29/01/2019 - 00Z", **txt)
lax.text(451, 692, "Copyright 2019 Meteociel.fr", family=MONO, fontsize=8.4, fontweight="bold",
         va="center", ha="left")

fig.savefig("out.png", dpi=100)
